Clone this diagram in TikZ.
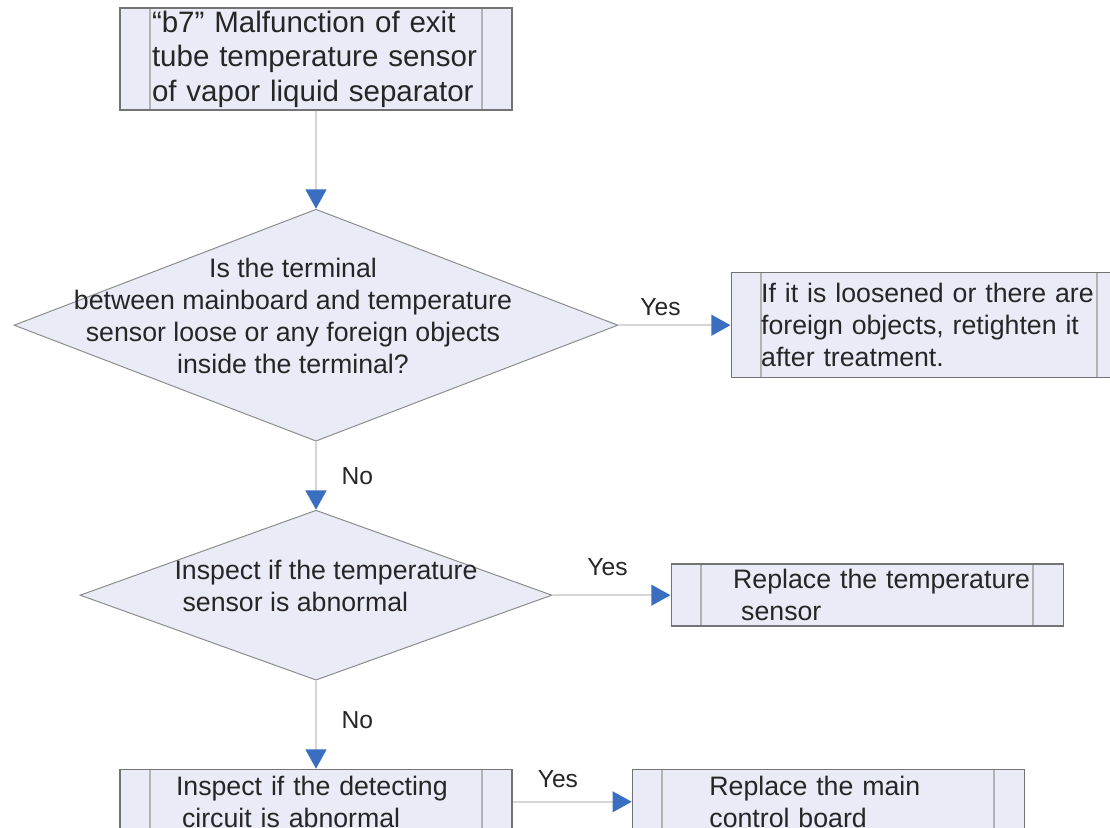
\documentclass[tikz,border=0pt]{standalone}
\usepackage{fontspec}
\setmainfont{Liberation Sans}
\usepackage{xcolor}
\usepackage{tikz}
\usetikzlibrary{arrows.meta,positioning,shapes.geometric}

\definecolor{boxfill}{RGB}{233,236,246}
\definecolor{flowgray}{RGB}{214,214,214}
\definecolor{tipblue}{RGB}{58,110,192}

% text of a decision: zero size, so the diamond keeps its own size
\newcommand{\dtext}[3]{\smash{\makebox[0pt][l]{\kern#2\makebox[0pt]{\begin{tabular}{@{}#1@{}}#3\end{tabular}}}}}

\begin{document}
\begin{tikzpicture}[
  % --- global style ---
  every node/.style={text=black!85},
  proc/.style={
    draw=black!55, line width=1pt, fill=boxfill, inner sep=0pt,
    align=left, minimum width=9.8cm, font=\fontsize{19}{22.7}\selectfont,
    path picture={
      \draw[black!30, line width=1.4pt]
        ([xshift=0.75cm]path picture bounding box.north west) -- ([xshift=0.75cm]path picture bounding box.south west)
        ([xshift=-0.75cm]path picture bounding box.north east) -- ([xshift=-0.75cm]path picture bounding box.south east);
    }
  },
  decision/.style={
    diamond, draw=black!45, line width=0.7pt, fill=boxfill, inner sep=0pt,
    font=\fontsize{19}{22.7}\selectfont
  },
  arr/.style={draw=flowgray, line width=1.3pt,
    -{Triangle[length=0.48cm,width=0.52cm,color=tipblue]}},
  lbl/.style={font=\fontsize{17.5}{21}\selectfont},
]

% ====== Frame ======
\useasboundingbox (0,0) rectangle (27.75,-20.675);
\clip (0,0) rectangle (27.75,-20.675);
\fill[white] (0,0) rectangle (27.75,-20.675);

% ====== Main column ======
\node[proc, minimum height=2.55cm, text width=8.2cm, font=\fontsize{21}{24.5}\selectfont]
  (start) at (7.9,-1.475) {“b7” Malfunction of exit\\tube temperature sensor\\of vapor liquid separator};

\node[decision, minimum width=15.1cm, minimum height=5.8cm, below=2.45cm of start]
  (q1) {\dtext{c}{-0.575cm}{Is the terminal\\between mainboard and temperature\\sensor loose or any foreign objects\\inside the terminal?}};

\node[decision, minimum width=11.8cm, minimum height=4.25cm, below=1.7cm of q1]
  (q2) {\dtext{l}{0.25cm}{Inspect if the temperature\\\hspace*{0.2cm}sensor is abnormal}};

\node[proc, minimum height=1.62cm, text width=7cm, below=2.2cm of q2]
  (check) {Inspect if the detecting\\\hspace*{0.15cm}circuit is abnormal};

% --- right column ---
\node[proc, minimum height=2.625cm, minimum width=9.9cm, text width=8.4cm, right=2.8cm of q1]
  (fix1) {If it is loosened or there are\\foreign objects, retighten it\\after treatment.};

\node[proc, minimum height=1.55cm, text width=6.7cm, right=2.95cm of q2]
  (fix2) {\mbox{Replace the temperature}\\\hspace*{0.2cm}sensor};

\node[proc, minimum height=1.62cm, text width=5.95cm, right=2.975cm of check]
  (fix3) {Replace the main\\control board};

% ====== Arrows ======
\draw[arr] (start) -- (q1);
\draw[arr] (q1) -- node[lbl, pos=0.375, above=0.1cm] (yes1) {Yes} (fix1);
\draw[arr] (q1) -- node[lbl, pos=0.5, right=0.5cm] (no1) {No} (q2);
\draw[arr] (q2) -- node[lbl, pos=0.466, above=0.35cm] (yes2) {Yes} (fix2);
\draw[arr] (q2) -- node[lbl, pos=0.45, right=0.5cm] (no2) {No} (check);
\draw[arr] (check) -- node[lbl, pos=0.38, above=0.21cm] (yes3) {Yes} (fix3);

\end{tikzpicture}
\end{document}
